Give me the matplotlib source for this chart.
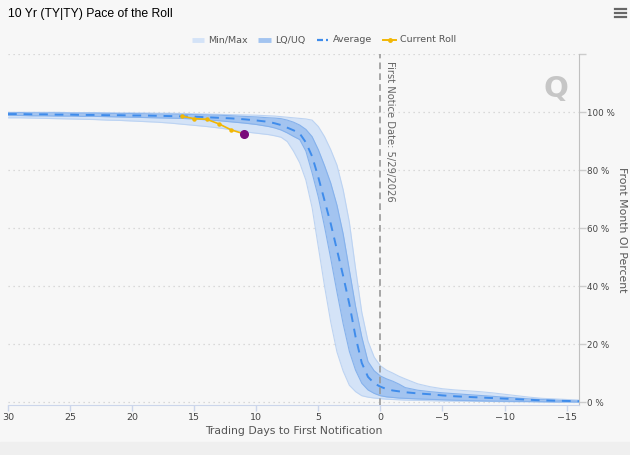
import matplotlib
matplotlib.use("Agg")
import matplotlib.pyplot as plt
from matplotlib.lines import Line2D
from matplotlib.patches import Rectangle

# ---------------- data ----------------
days = [30, 29, 28, 27, 26, 25, 24, 23, 22, 21, 20, 19, 18, 17, 16, 15, 14, 13, 12, 11, 10, 9,
        8.5, 8, 7.5, 7, 6.5, 6, 5.5, 5, 4.5, 4, 3.5, 3, 2.5, 2, 1.5, 1, 0.5, 0, -0.5, -1, -1.5, -2,
        -3, -4, -5, -6, -7, -8, -9, -10, -11, -12, -13, -14, -15, -16]

avg_vals = [99.3, 99.3, 99.2, 99.2, 99.1, 99.1, 99.0, 99.0, 98.9, 98.9, 98.8, 98.8, 98.7, 98.6, 98.5,
            98.4, 98.2, 98.0, 97.8, 97.5, 97.1, 96.6,
            96.1, 95.5, 94.6, 93.7, 92.6, 89.5, 84.7, 77.5, 69.5, 61.5, 52.5, 43.5, 33.8, 22.5, 13.5,
            8.7, 6.5, 5.3, 4.5, 4.0, 3.7, 3.4,
            3.0, 2.7, 2.3, 2.0, 1.8, 1.6, 1.4, 1.2, 1.0, 0.8, 0.6, 0.5, 0.4, 0.3]

max_vals = [99.9, 99.9, 99.9, 99.9, 99.9, 99.8, 99.8, 99.8, 99.8, 99.7, 99.7, 99.7, 99.6, 99.6, 99.5,
            99.4, 99.3, 99.2, 99.1, 99.0, 98.9, 98.7,
            98.6, 98.4, 98.2, 98.0, 97.8, 97.6, 97.2, 95.0, 91.5, 87.0, 81.7, 73.2, 62.0, 46.0, 31.0,
            21.0, 15.5, 12.5, 11.0, 10.0, 8.9, 8.0,
            6.3, 5.3, 4.6, 4.2, 3.9, 3.6, 3.2, 2.7, 2.2, 1.7, 1.3, 1.1, 0.9, 0.7]

uq_vals = [99.8, 99.8, 99.7, 99.7, 99.7, 99.6, 99.6, 99.6, 99.5, 99.5, 99.5, 99.4, 99.3, 99.3, 99.2,
           99.1, 99.0, 98.9, 98.7, 98.5, 98.3, 98.0,
           97.9, 97.7, 97.2, 96.5, 95.5, 94.0, 91.5, 87.0, 81.5, 75.5, 67.9, 58.0, 45.5, 33.0, 22.5,
           14.0, 10.8, 9.0, 8.0, 7.2, 6.2, 5.0,
           4.1, 3.6, 3.2, 2.9, 2.6, 2.3, 2.0, 1.7, 1.4, 1.1, 0.9, 0.7, 0.5, 0.4]

lq_vals = [98.8, 98.8, 98.7, 98.7, 98.6, 98.6, 98.5, 98.5, 98.4, 98.3, 98.2, 98.1, 98.0, 97.9, 97.8,
           97.6, 97.3, 97.0, 96.6, 96.2, 95.7, 95.0,
           94.5, 93.8, 92.8, 91.6, 90.5, 86.5, 79.0, 70.7, 60.5, 49.5, 38.0, 27.0, 17.5, 11.0, 6.5,
           4.2, 3.0, 2.2, 1.8, 1.6, 1.4, 1.3,
           1.1, 0.95, 0.8, 0.65, 0.55, 0.45, 0.35, 0.3, 0.25, 0.2, 0.15, 0.1, 0.1, 0.05]

min_vals = [98.0, 98.0, 97.9, 97.8, 97.7, 97.6, 97.5, 97.4, 97.2, 97.1, 96.9, 96.7, 96.5, 96.2, 95.8,
            95.4, 95.0, 94.5, 93.9, 93.2, 92.7, 92.2,
            91.8, 91.3, 89.8, 86.5, 82.5, 76.5, 67.0, 53.5, 40.0, 27.6, 17.3, 10.7, 5.8, 3.6, 2.2,
            1.7, 1.4, 1.2, 1.0, 0.9, 0.8, 0.7,
            0.6, 0.5, 0.4, 0.35, 0.3, 0.25, 0.2, 0.15, 0.1, 0.1, 0.05, 0.0, 0.0, 0.0]

roll_days = [16, 15, 14, 13, 12, 11]
roll_vals = [98.6, 97.7, 97.5, 95.9, 93.8, 92.5]

x_ticks = [30, 25, 20, 15, 10, 5, 0, -5, -10, -15]
y_ticks = [0, 20, 40, 60, 80, 100]

title = "10 Yr (TY|TY) Pace of the Roll"
notice_label = "First Notice Date: 5/29/2026"
x_title = "Trading Days to First Notification"
y_title = "Front Month OI Percent"
legend_names = ["Min/Max", "LQ/UQ", "Average", "Current Roll"]

# ---------------- style ----------------
plt.rcParams['font.family'] = ['DejaVu Sans']
BG = '#f7f7f7'
C_MINMAX = '#d4e3f7'
C_MINMAX_EDGE = '#bcd3f2'
C_IQR = '#a3c4f0'
C_IQR_EDGE = '#86b2ec'
C_AVG = '#3f8ceb'
C_ROLL = '#f2b705'
C_DOT = '#7a0a7a'
TXT = '#555555'

W, H = 630, 455
fig = plt.figure(figsize=(W / 100, H / 100), dpi=100, facecolor=BG)


def fx(px):
    return px / W


def fy(py):
    return 1 - py / H


ax_l, ax_r, ax_t, ax_b = 8, 579, 54, 405
ax = fig.add_axes([fx(ax_l), fy(ax_b), fx(ax_r - ax_l), (ax_b - ax_t) / H])
ax.set_facecolor(BG)

ax.fill_between(days, min_vals, max_vals, color=C_MINMAX, lw=0, zorder=2)
ax.plot(days, max_vals, color=C_MINMAX_EDGE, lw=0.8, zorder=2)
ax.plot(days, min_vals, color=C_MINMAX_EDGE, lw=0.8, zorder=2)
ax.fill_between(days, lq_vals, uq_vals, color=C_IQR, lw=0, zorder=3)
ax.plot(days, uq_vals, color=C_IQR_EDGE, lw=0.8, zorder=3)
ax.plot(days, lq_vals, color=C_IQR_EDGE, lw=0.8, zorder=3)
ax.plot(days, avg_vals, color=C_AVG, lw=1.4, dashes=(4.5, 3.5), zorder=4)

ax.plot(roll_days, roll_vals, color=C_ROLL, lw=1.2, marker='o', ms=2.2, zorder=5)
ax.plot(roll_days[-1:], roll_vals[-1:], 'o', color=C_DOT, ms=5.5, zorder=6)

ax.axvline(0, color='#999999', lw=1.2, dashes=(4, 2.5), zorder=4)
ax.text(-0.35, 117.5, notice_label, rotation=-90, ha='left', va='top',
        fontsize=7.2, color='#666666')

ax.set_xlim(30, -16)
ax.set_ylim(-1, 120)
ax.set_xticks(x_ticks)
ax.set_xticklabels([("\u2212" + str(-v)) if v < 0 else str(v) for v in x_ticks])
ax.set_yticks(y_ticks + [120])
ax.set_yticklabels([f"{v} %" for v in y_ticks] + [""])
ax.yaxis.tick_right()
ax.yaxis.set_label_position('right')
ax.grid(axis='y', color='#d0d0d0', lw=0.9, linestyle=(0, (1, 3)))
ax.tick_params(axis='x', colors='#ccd6eb', labelcolor='#444444', labelsize=6.8, length=4, width=1, pad=2)
ax.tick_params(axis='y', colors='#cccccc', labelcolor='#444444', labelsize=6.3, length=5, width=1, pad=1)
for s in ['top', 'left']:
    ax.spines[s].set_visible(False)
ax.spines['bottom'].set_color('#ccd6eb')
ax.spines['right'].set_color('#c0c0c0')
ax.set_axisbelow(True)

ax.set_xlabel(x_title, fontsize=7.8, color=TXT, labelpad=3)
ax.set_ylabel(y_title, fontsize=7.8, color=TXT, rotation=-90, va='center')
ax.yaxis.set_label_coords((622 - ax_l) / (ax_r - ax_l), 0.5)

# title
fig.text(fx(8), fy(14), title, fontsize=8.8, color='#000000', ha='left', va='center',
         family='Liberation Sans')

# hamburger
for yy in (9, 13, 17):
    fig.add_artist(Line2D([fx(615), fx(626)], [fy(yy), fy(yy)], color='#666666', lw=1.6,
                          transform=fig.transFigure))

# Q watermark
fig.text(fx(556), fy(89), "Q", fontsize=21, fontweight='bold', color='#c6c6c6',
         ha='center', va='center')
for yy, x0, ln in [(62, 557, 4), (67, 553, 6), (72, 549, 8), (77, 545, 9), (82, 541, 10),
                   (87, 538, 10), (92, 535, 10), (97, 533, 9), (102, 532, 7), (107, 531, 5)]:
    fig.add_artist(Line2D([fx(x0), fx(x0 + ln)], [fy(yy), fy(yy)], color='#cfe8f6', lw=1.0,
                          transform=fig.transFigure, zorder=0))

# legend (manual)
ly = 40
fs_leg = 6.8
fig.add_artist(Line2D([fx(192), fx(204)], [fy(ly), fy(ly)], color=C_MINMAX, lw=3.5,
                      transform=fig.transFigure, solid_capstyle='butt'))
fig.text(fx(208), fy(ly), legend_names[0], fontsize=fs_leg, color=TXT, ha='left', va='center')
fig.add_artist(Line2D([fx(258), fx(271)], [fy(ly), fy(ly)], color=C_IQR, lw=3.5,
                      transform=fig.transFigure, solid_capstyle='butt'))
fig.text(fx(275), fy(ly), legend_names[1], fontsize=fs_leg, color=TXT, ha='left', va='center')
fig.add_artist(Line2D([fx(317), fx(323)], [fy(ly), fy(ly)], color=C_AVG, lw=1.6,
                      transform=fig.transFigure, solid_capstyle='butt'))
fig.add_artist(Line2D([fx(326), fx(328)], [fy(ly), fy(ly)], color=C_AVG, lw=1.6,
                      transform=fig.transFigure, solid_capstyle='butt'))
fig.text(fx(333), fy(ly), legend_names[2], fontsize=fs_leg, color=TXT, ha='left', va='center')
fig.add_artist(Line2D([fx(383), fx(396)], [fy(ly), fy(ly)], color=C_ROLL, lw=1.4,
                      transform=fig.transFigure))
fig.add_artist(Line2D([fx(389.5)], [fy(ly)], color=C_ROLL, marker='o', ms=2.5,
                      transform=fig.transFigure))
fig.text(fx(400), fy(ly), legend_names[3], fontsize=fs_leg, color=TXT, ha='left', va='center')

# bottom border of container
fig.add_artist(Rectangle((0, 0), 1, fy(442), color='#efefef', transform=fig.transFigure, zorder=-1))

fig.savefig("out.png", dpi=100, facecolor=BG)
